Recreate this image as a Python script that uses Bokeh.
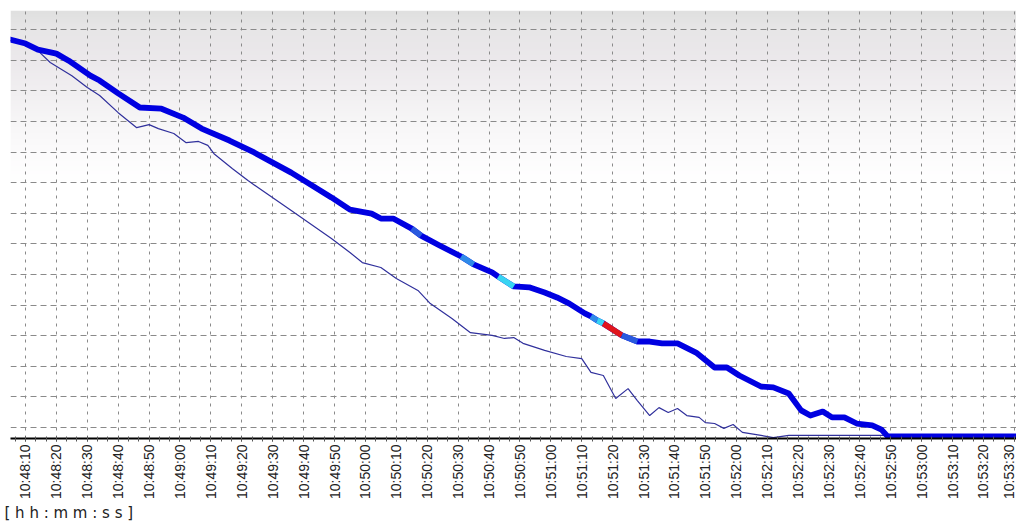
import numpy as np
from bokeh.plotting import figure
from bokeh.models import FixedTicker, Title, Range1d
from bokeh.embed import file_html
from bokeh.resources import INLINE

# ---------------- data ----------------
tick_labels = ["10:48:10", "10:48:20", "10:48:30", "10:48:40", "10:48:50",
               "10:49:00", "10:49:10", "10:49:20", "10:49:30", "10:49:40", "10:49:50",
               "10:50:00", "10:50:10", "10:50:20", "10:50:30", "10:50:40", "10:50:50",
               "10:51:00", "10:51:10", "10:51:20", "10:51:30", "10:51:40", "10:51:50",
               "10:52:00", "10:52:10", "10:52:20", "10:52:30", "10:52:40", "10:52:50",
               "10:53:00", "10:53:10", "10:53:20", "10:53:30"]

thick_time = ["10:48:05", "10:48:10", "10:48:14", "10:48:20", "10:48:24", "10:48:31",
              "10:48:34", "10:48:40", "10:48:47", "10:48:54", "10:49:01", "10:49:07",
              "10:49:16", "10:49:24", "10:49:36", "10:49:49", "10:49:55", "10:50:02",
              "10:50:05", "10:50:09", "10:50:15", "10:50:18", "10:50:24", "10:50:31",
              "10:50:35", "10:50:41", "10:50:43", "10:50:48", "10:50:53", "10:50:58",
              "10:51:02", "10:51:06", "10:51:11", "10:51:13", "10:51:15", "10:51:17",
              "10:51:23", "10:51:28", "10:51:32", "10:51:36", "10:51:41", "10:51:47",
              "10:51:53", "10:51:57", "10:52:01", "10:52:08", "10:52:12", "10:52:17",
              "10:52:21", "10:52:24", "10:52:28", "10:52:31", "10:52:35", "10:52:39",
              "10:52:44", "10:52:47", "10:52:49", "10:53:09", "10:53:31"]
thick_value = [12.68, 12.55, 12.35, 12.22, 11.99, 11.50, 11.34, 10.92, 10.46, 10.42,
               10.13, 9.77, 9.38, 8.99, 8.33, 7.52, 7.12, 6.99, 6.83, 6.83,
               6.50, 6.27, 5.95, 5.59, 5.33, 5.07, 4.93, 4.61, 4.58, 4.41,
               4.25, 4.05, 3.73, 3.63, 3.50, 3.40, 3.01, 2.81, 2.81, 2.75,
               2.75, 2.45, 1.96, 1.96, 1.70, 1.34, 1.31, 1.11, 0.56, 0.39,
               0.52, 0.33, 0.33, 0.13, 0.07, -0.07, -0.29, -0.29, -0.29]
# colour level of each segment between consecutive thick points
thick_level = [0, 0, 0, 0, 0, 0, 0, 0, 0, 0,
               0, 0, 0, 0, 0, 0, 0, 0, 0, 0,
               1, 0, 0, 2, 0, 0, 3, 0, 0, 0,
               0, 0, 0, 2, 3, 4, 1, 0, 0, 0,
               0, 0, 0, 0, 0, 0, 0, 0, 0, 0,
               0, 0, 0, 0, 0, 0, 0, 0]

thin_time = ["10:48:05", "10:48:10", "10:48:14", "10:48:18", "10:48:25", "10:48:30",
             "10:48:34", "10:48:40", "10:48:46", "10:48:50", "10:48:53", "10:48:58",
             "10:49:02", "10:49:06", "10:49:09", "10:49:11", "10:49:17", "10:49:22",
             "10:49:36", "10:49:49", "10:49:55", "10:49:59", "10:50:05", "10:50:10",
             "10:50:17", "10:50:21", "10:50:28", "10:50:34", "10:50:41", "10:50:45",
             "10:50:48", "10:50:51", "10:50:58", "10:51:05", "10:51:10", "10:51:13",
             "10:51:17", "10:51:21", "10:51:25", "10:51:28", "10:51:32", "10:51:35",
             "10:51:38", "10:51:41", "10:51:44", "10:51:48", "10:51:50", "10:51:53",
             "10:51:56", "10:51:59", "10:52:02", "10:52:08", "10:52:12", "10:52:17",
             "10:52:50", "10:53:31"]
thin_value = [12.65, 12.52, 12.32, 11.93, 11.50, 11.11, 10.85, 10.29, 9.80, 9.90,
              9.77, 9.61, 9.31, 9.35, 9.22, 8.95, 8.46, 8.07, 7.09, 6.18,
              5.72, 5.39, 5.23, 4.87, 4.48, 4.05, 3.56, 3.10, 3.01, 2.91,
              2.94, 2.75, 2.52, 2.32, 2.25, 1.80, 1.70, 0.95, 1.27, 0.88,
              0.39, 0.65, 0.49, 0.62, 0.39, 0.33, 0.16, 0.13, -0.03, 0.10,
              -0.16, -0.26, -0.33, -0.26, -0.26, -0.26]

y_grid_values = list(range(0, 14))
axis_title = "[hh:mm:ss]"

# ---------------- helpers ----------------
BASE = 10 * 3600 + 48 * 60


def to_sec(t):
    h, m, s = (int(v) for v in t.split(":"))
    return h * 3600 + m * 60 + s - BASE


tick_secs = [to_sec(t) for t in tick_labels]
tx = [to_sec(t) for t in thick_time]
nx = [to_sec(t) for t in thin_time]

level_colors = {0: "#0000e1", 1: "#2a5ade", 2: "#2f8ae8", 3: "#38d4f2", 4: "#e0151b"}

x0, x1 = 5.15, 330.7
y0, y1 = -0.36, 13.63

p = figure(width=1016, height=523, output_backend="svg", toolbar_location=None,
           x_range=Range1d(x0, x1), y_range=Range1d(y0, y1),
           min_border_left=10, min_border_right=0, min_border_top=10,
           min_border_bottom=85)
p.outline_line_color = None
p.background_fill_color = "white"
p.border_fill_color = "white"

# vertical gradient background (top grey fading to white)
H = 428
stops_px = [0, 18, 50, 80, 110, 140, 170, 428]
stops_col = [(224, 224, 224), (231, 230, 231), (236, 233, 236), (241, 239, 241),
             (247, 246, 247), (252, 251, 252), (255, 255, 255), (255, 255, 255)]
rows = np.arange(H)
cols = np.stack([np.interp(rows, stops_px, [c[i] for c in stops_col]) for i in range(3)], axis=1)
cols = cols[::-1]  # image rows go bottom -> top
img = np.empty((H, 1), dtype=np.uint32)
view = img.view(dtype=np.uint8).reshape((H, 1, 4))
view[:, 0, 0] = cols[:, 0].astype(np.uint8)
view[:, 0, 1] = cols[:, 1].astype(np.uint8)
view[:, 0, 2] = cols[:, 2].astype(np.uint8)
view[:, 0, 3] = 255
p.image_rgba(image=[img], x=x0, y=y0, dw=x1 - x0, dh=y1 - y0, level="image")

# grid
p.xgrid.ticker = FixedTicker(ticks=tick_secs)
p.xgrid.grid_line_color = "#8a8a8a"
p.xgrid.grid_line_dash = "3 5"
p.xgrid.grid_line_width = 1
p.ygrid.ticker = FixedTicker(ticks=y_grid_values)
p.ygrid.grid_line_color = "#8a8a8a"
p.ygrid.grid_line_dash = "6 4"
p.ygrid.grid_line_width = 1

# axes
p.yaxis.visible = False
minor = [tick_secs[0] + i * 10 / 3 for i in range(-1, 3 * (len(tick_secs) - 1) + 2)]
xa = p.xaxis[0]
xa.ticker = FixedTicker(ticks=tick_secs, minor_ticks=minor)
xa.major_label_overrides = {s: lab for s, lab in zip(tick_secs, tick_labels)}
xa.major_label_orientation = np.pi / 2
xa.major_label_text_font = "Liberation Sans"
xa.major_label_text_font_size = "14px"
xa.major_label_text_color = "#222222"
xa.major_label_standoff = 3
xa.axis_line_color = "black"
xa.axis_line_width = 2
xa.major_tick_in = 2
xa.major_tick_out = 3
xa.major_tick_line_color = "#555555"
xa.minor_tick_in = 2
xa.minor_tick_out = 3
xa.minor_tick_line_color = "#555555"

# lines
p.line(nx, thin_value, line_color="#30309c", line_width=1.2)
p.line(tx, thick_value, line_color=level_colors[0], line_width=5.8,
       line_join="round", line_cap="round")
sx0 = [tx[i] for i, l in enumerate(thick_level) if l > 0]
sy0 = [thick_value[i] for i, l in enumerate(thick_level) if l > 0]
sx1 = [tx[i + 1] for i, l in enumerate(thick_level) if l > 0]
sy1 = [thick_value[i + 1] for i, l in enumerate(thick_level) if l > 0]
sc = [level_colors[l] for l in thick_level if l > 0]
p.segment(sx0, sy0, sx1, sy1, line_color=sc, line_width=5.8, line_cap="butt")

# axis title, bottom-left under the tick labels
spaced = " ".join(axis_title)
p.add_layout(Title(text=spaced, align="left", offset=-6, standoff=0,
                   text_font="DejaVu Sans", text_font_size="15px",
                   text_font_style="normal", text_color="#222222"), "below")

open("out.html", "w").write(file_html(p, INLINE))
